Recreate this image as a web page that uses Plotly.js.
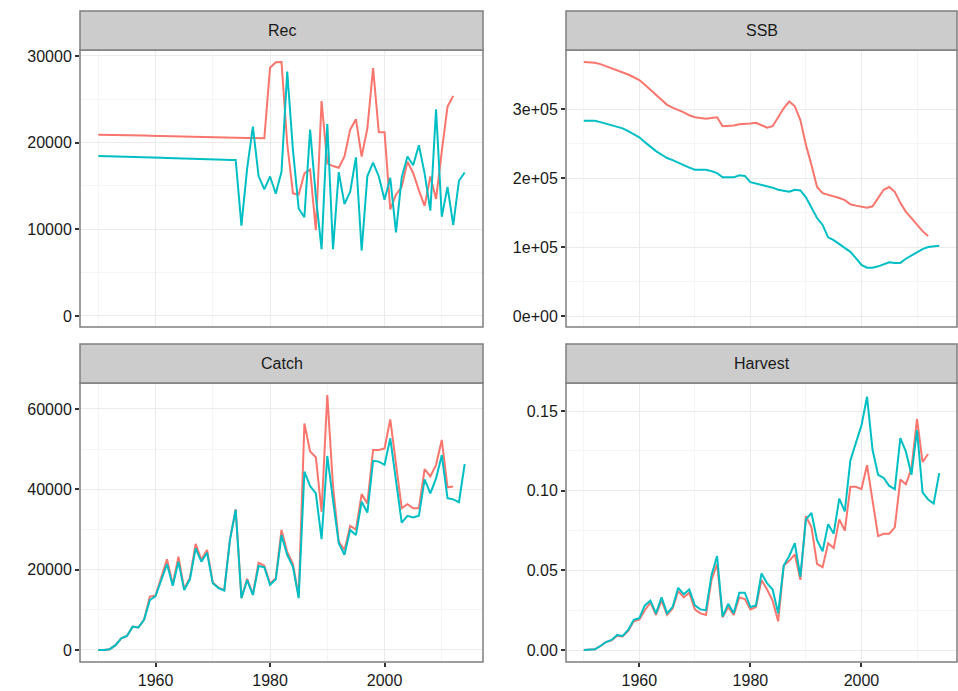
<!DOCTYPE html>
<html><head><meta charset="utf-8">
<script src="https://cdn.plot.ly/plotly-3.0.1.min.js"></script>
<style>body{margin:0;background:#fff}</style></head>
<body><div id="c" style="width:958px;height:691px"></div>
<script>
function yrs(a,b){var r=[];for(var y=a;y<=b;y++)r.push(y);return r;}
var yearsA = yrs(1950,2012); // series A (red)
var yearsB = yrs(1950,2014); // series B (cyan)

var recA = [20900,20900,20900,20880,20870,20860,20850,20830,20820,20800,20780,20760,20740,20720,20700,20680,20660,20640,20620,20600,20600,20600,20590,20570,20560,20550,20540,20530,20520,20510,
28650,29270,29300,19900,14150,14000,16450,16900,9900,24800,17600,17300,17100,18400,21500,22700,18400,21650,28600,21200,21200,12300,14000,14900,17800,16500,14500,12700,16100,13500,19000,24150,25400];
var recB = [18460,18450,18440,18430,18420,18400,18380,18360,18340,18320,18300,18270,18240,18210,18180,18150,18120,18100,18080,18060,18040,18030,18020,18010,18000,
10420,17040,21850,16150,14600,16100,14100,16650,28200,19150,12400,11400,21500,13800,7700,22150,7700,16600,12900,14350,18300,7550,16150,17700,16100,13400,15950,9650,16000,18400,17400,19700,16450,12150,23850,11450,14900,10500,15600,16550];

var ssbA = [368000,368000,367000,365000,362000,359000,357000,354000,350000,346000,342000,335000,328000,320000,313000,306000,302000,299000,295000,291000,288000,287000,286000,287000,288000,275000,275000,276000,278000,278000,
279000,280000,277000,273000,275000,288000,301000,311000,304000,284000,248000,219000,187000,178000,176000,174000,171000,168000,162000,160000,159000,157000,159000,172000,183000,187000,180000,164000,151000,142000,132000,123000,116000];
var ssbB = [283000,283000,283000,281000,279000,277000,275000,272000,268000,264000,259000,252000,245000,239000,234000,229000,226000,222000,219000,215000,212000,212000,212000,210000,207000,201000,201000,201000,204000,203000,
194000,192000,191000,189000,186000,183000,181000,180000,183000,182000,172000,157000,142000,132000,114000,110000,104000,99000,93000,84000,74000,70000,70000,72000,75000,78000,77000,77000,83000,88000,93000,97000,100000,101000,102000];

var catchA = [0,0,200,1200,2900,3500,5800,5600,7600,13300,13600,18000,22600,16300,23200,15200,18000,26400,22500,24900,16800,15500,14900,27600,35000,13000,17700,13900,21700,21000,
16500,17900,29900,24400,21400,13400,56400,49400,48000,34400,63500,40700,27000,24900,30900,30000,38800,36500,49800,49800,50200,57400,46500,35300,36300,35300,35300,45000,43200,46100,52300,40500,40700];
var catchB = [0,0,200,1200,2900,3500,5800,5600,7600,12400,13400,17600,21400,16000,22000,14900,17600,25300,22000,24200,16600,15400,14800,27400,34900,12900,17400,13700,20900,20600,
16200,17600,28600,23700,20700,12900,44400,40800,39000,27600,48300,37300,26600,23700,29900,28600,36900,34200,47100,46900,46100,52700,42300,31700,33400,33000,33400,42500,39000,42700,48500,37800,37500,36800,46300];

var harvA = [0,0,0.0004,0.0025,0.005,0.006,0.009,0.0085,0.012,0.018,0.019,0.025,0.0297,0.022,0.031,0.022,0.026,0.037,0.033,0.036,0.0255,0.023,0.022,0.044,0.054,0.0205,0.027,0.022,0.033,0.032,
0.0255,0.027,0.044,0.038,0.031,0.018,0.053,0.056,0.060,0.044,0.084,0.077,0.054,0.052,0.067,0.064,0.082,0.075,0.1025,0.1025,0.101,0.116,0.094,0.0715,0.073,0.073,0.077,0.107,0.104,0.114,0.145,0.118,0.123];
var harvB = [0,0,0.0004,0.0025,0.005,0.0063,0.0094,0.0088,0.0126,0.019,0.020,0.028,0.031,0.023,0.033,0.023,0.027,0.039,0.035,0.038,0.028,0.0255,0.025,0.047,0.059,0.021,0.029,0.023,0.036,0.036,
0.027,0.028,0.048,0.042,0.038,0.023,0.053,0.059,0.067,0.046,0.082,0.086,0.069,0.062,0.079,0.073,0.095,0.087,0.119,0.130,0.141,0.159,0.1255,0.110,0.108,0.103,0.101,0.133,0.1245,0.110,0.138,0.099,0.0945,0.092,0.111];

var panels = ["Rec","SSB","Catch","Harvest"];
var xTicks = [1960,1980,2000];
var cA = "#F8766D", cB = "#00BFC4";

var data = [];
var sets = [[recA,recB],[ssbA,ssbB],[catchA,catchB],[harvA,harvB]];
for (var i=0;i<4;i++){
  var s = i===0?"":(i+1);
  data.push({x:yearsA,y:sets[i][0],type:"scatter",mode:"lines",line:{color:cA,width:2},xaxis:"x"+s,yaxis:"y"+s,showlegend:false});
  data.push({x:yearsB,y:sets[i][1],type:"scatter",mode:"lines",line:{color:cB,width:2},xaxis:"x"+s,yaxis:"y"+s,showlegend:false});
}

var L=[80/958,483/958], R=[566/958,957/958];
var T=[1-327/691,1-50/691], B=[1-662/691,1-383/691];
var doms=[[L,T],[R,T],[L,B],[R,B]];
var yr=[[-1270,30690],[-15900,385500],[-2990,66470],[-0.00753,0.1676]];
var yt=[[0,10000,20000,30000],[0,100000,200000,300000],[0,20000,40000,60000],[0,0.05,0.10,0.15]];
var ytt=[["0","10000","20000","30000"],["0e+00","1e+05","2e+05","3e+05"],["0","20000","40000","60000"],["0.00","0.05","0.10","0.15"]];
var layout={width:958,height:691,margin:{l:0,r:0,t:0,b:0},paper_bgcolor:"#fff",plot_bgcolor:"#fff",
  font:{family:"Liberation Sans, Arial, sans-serif",size:16,color:"#1a1a1a"},shapes:[],annotations:[]};
for (var i=0;i<4;i++){
  var s=i===0?"":(i+1);
  var bottom = i>=2;
  layout["xaxis"+s]={domain:doms[i][0],range:[1946.8,2017.2],anchor:"y"+s,tickvals:xTicks,ticktext:xTicks.map(String),
    showticklabels:bottom,ticks:bottom?"outside":"",ticklen:4,tickwidth:1.5,tickcolor:"#333",showgrid:true,gridcolor:"#ebebeb",gridwidth:1.2,zeroline:false,showline:false,
    minor:{tickvals:[1950,1970,1990,2010],showgrid:true,gridcolor:"#f5f5f5",gridwidth:0.8},tickfont:{size:16,color:"#1a1a1a"}};
  var mv=[]; for(var k=0;k<yt[i].length-1;k++) mv.push((yt[i][k]+yt[i][k+1])/2);
  layout["yaxis"+s]={domain:doms[i][1],range:yr[i],anchor:"x"+s,tickvals:yt[i],ticktext:ytt[i],ticks:"outside",ticklen:4,tickwidth:1.5,tickcolor:"#333",
    showgrid:true,gridcolor:"#ebebeb",gridwidth:1.2,zeroline:false,showline:false,
    minor:{tickvals:mv,showgrid:true,gridcolor:"#f5f5f5",gridwidth:0.8},tickfont:{size:16,color:"#1a1a1a"}};
  var xd=doms[i][0], yd=doms[i][1];
  layout.shapes.push({type:"rect",xref:"paper",yref:"paper",x0:xd[0],x1:xd[1],y0:yd[0],y1:yd[1],line:{color:"#7f7f7f",width:1.5},fillcolor:"rgba(0,0,0,0)"});
  var sh=39/691;
  layout.shapes.push({type:"rect",xref:"paper",yref:"paper",x0:xd[0],x1:xd[1],y0:yd[1],y1:yd[1]+sh,line:{color:"#7f7f7f",width:1.5},fillcolor:"#cccccc"});
  layout.annotations.push({xref:"paper",yref:"paper",x:(xd[0]+xd[1])/2,y:yd[1]+sh/2,text:panels[i],showarrow:false,font:{size:16,color:"#1a1a1a"},xanchor:"center",yanchor:"middle"});
}
Plotly.newPlot("c",data,layout,{displayModeBar:false});
</script></body></html>
